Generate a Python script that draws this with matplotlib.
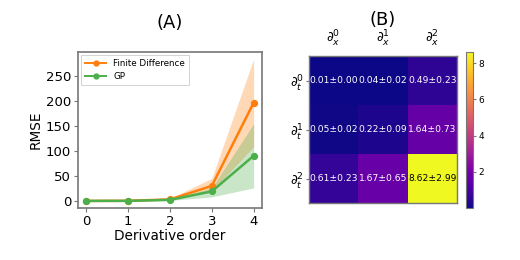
import numpy as np
import matplotlib
matplotlib.use("Agg")
import matplotlib.pyplot as plt

orders = [0, 1, 2, 3, 4]
fd_mean = [0.0, 0.2, 3.0, 30.0, 196.0]
fd_low = [0.0, 0.1, 2.0, 20.0, 108.0]
fd_high = [0.0, 0.4, 5.0, 45.0, 283.0]
gp_mean = [0.0, 0.1, 2.0, 19.0, 90.0]
gp_low = [0.0, 0.05, 1.0, 8.0, 26.0]
gp_high = [0.0, 0.2, 3.5, 26.0, 154.0]

heat_mean = np.array([[0.01, 0.04, 0.49],
                      [0.05, 0.22, 1.64],
                      [0.61, 1.67, 8.62]])
heat_std = np.array([[0.00, 0.02, 0.23],
                     [0.02, 0.09, 0.73],
                     [0.23, 0.65, 2.99]])
x_labels = [r"$\partial_x^0$", r"$\partial_x^1$", r"$\partial_x^2$"]
t_labels = [r"$\partial_t^0$", r"$\partial_t^1$", r"$\partial_t^2$"]
cbar_ticks = [2, 4, 6, 8]

W, H = 520, 260
fig = plt.figure(figsize=(W / 100, H / 100), dpi=100)

def box(x0, y0, x1, y1):
    return [x0 / W, 1 - y1 / H, (x1 - x0) / W, (y1 - y0) / H]

spine_col = "#777777"

# Panel A
ax = fig.add_axes(box(78, 52, 262, 208))
orange = "#ff7f0e"
green = "#4daf4a"
ax.fill_between(orders, fd_low, fd_high, color=orange, alpha=0.3, lw=0)
ax.fill_between(orders, gp_low, gp_high, color=green, alpha=0.3, lw=0)
ax.plot(orders, fd_mean, "-o", color=orange, lw=1.8, ms=4.2, label="Finite Difference")
ax.plot(orders, gp_mean, "-o", color=green, lw=1.8, ms=4.2, label="GP")
ax.set_xticks(orders)
ax.set_yticks([0, 50, 100, 150, 200, 250])
ax.tick_params(labelsize=9.5, length=3, color=spine_col, pad=2)
ax.set_xlabel("Derivative order", fontsize=9.8, labelpad=1)
ax.set_ylabel("RMSE", fontsize=9.8, labelpad=2)
ax.set_title("(A)", fontsize=13, pad=17)
for s in ax.spines.values():
    s.set_color(spine_col)
    s.set_linewidth(1.2)
leg = ax.legend(loc="upper left", fontsize=6.3, handlelength=2.4, borderpad=0.45,
                labelspacing=0.45, fancybox=False, framealpha=1,
                borderaxespad=0.35)
leg.get_frame().set_linewidth(0.6)
for line in leg.get_lines():
    line.set_linewidth(1.4)
    line.set_markersize(3.5)

# Panel B
axh = fig.add_axes(box(309, 56, 457, 203))
im = axh.imshow(heat_mean, cmap="plasma", aspect="auto")
for i in range(3):
    for j in range(3):
        col = "black" if heat_mean[i, j] > 5 else "white"
        axh.text(j, i, f"{heat_mean[i, j]:.2f}±{heat_std[i, j]:.2f}",
                 ha="center", va="center", color=col, fontsize=6.6)
axh.xaxis.tick_top()
axh.set_xticks(range(3))
axh.set_xticklabels(x_labels, fontsize=9.5)
axh.set_yticks(range(3))
axh.set_yticklabels(t_labels, fontsize=9.5)
axh.tick_params(axis="x", length=0, pad=5)
axh.tick_params(axis="y", length=2.5, pad=1, color=spine_col)
axh.set_title("(B)", fontsize=13, pad=2)
for s in axh.spines.values():
    s.set_color(spine_col)
    s.set_linewidth(1.0)

cax = fig.add_axes(box(466, 52, 473, 208))
cb = fig.colorbar(im, cax=cax, ticks=cbar_ticks)
cb.ax.tick_params(labelsize=6.5, length=2.5, pad=1.5, color=spine_col)
cb.outline.set_edgecolor(spine_col)
cb.outline.set_linewidth(0.8)

fig.savefig("out.png", dpi=100)
